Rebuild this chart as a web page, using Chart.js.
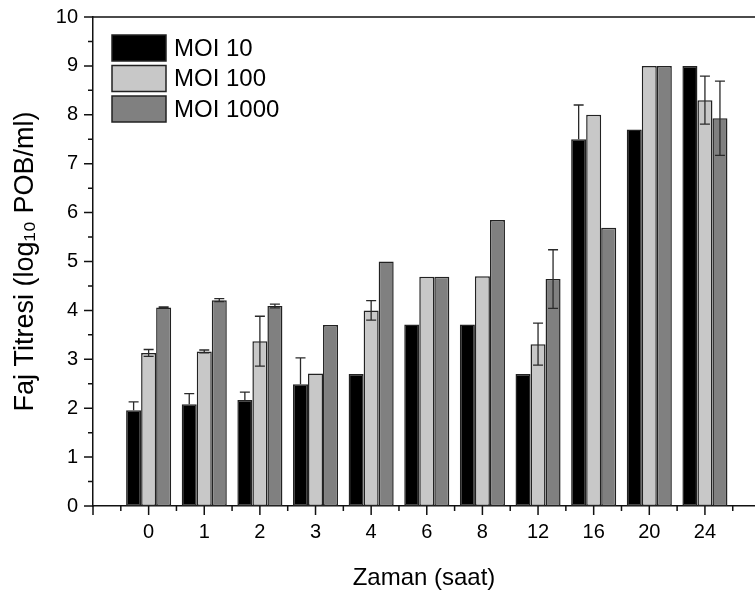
<!DOCTYPE html>
<html>
<head>
<meta charset="utf-8">
<script src="https://cdn.jsdelivr.net/npm/chart.js@4.4.0/dist/chart.umd.min.js"></script>
<style>
  html, body { margin: 0; padding: 0; background: #fff; overflow: hidden; }
  #wrap { width: 755px; height: 595px; position: relative; }
</style>
</head>
<body>
<div id="wrap"><canvas id="fajChart"></canvas></div>
<script>
// sampling times (hours)
const hours = ['0', '1', '2', '3', '4', '6', '8', '12', '16', '20', '24'];
// phage titre, log10 PFU/ml
const moi10   = [1.96, 2.08, 2.17, 2.49, 2.70, 3.71, 3.71, 2.70, 7.50, 7.70, 9.00];
const moi100  = [3.13, 3.16, 3.37, 2.71, 4.00, 4.69, 4.70, 3.31, 8.00, 9.00, 8.30];
const moi1000 = [4.06, 4.21, 4.09, 3.70, 5.00, 4.69, 5.85, 4.64, 5.69, 9.00, 7.93];
// error bars (+/-)
const err10   = [0.17, 0.22, 0.16, 0.54, 0, 0, 0, 0, 0.70, 0, 0];
const err100  = [0.07, 0.03, 0.51, 0, 0.20, 0, 0, 0.43, 0, 0, 0.49];
const err1000 = [0.01, 0.03, 0.04, 0, 0, 0, 0, 0.60, 0, 0, 0.76];
const yTicks = [0, 1, 2, 3, 4, 5, 6, 7, 8, 9, 10];

Chart.defaults.font.family = "'Liberation Sans', Arial, sans-serif";
Chart.defaults.color = '#000';

const toPoints = arr => arr.map((v, i) => ({ x: i, y: v }));

// error bars drawn on top of the bars (lower whisker hidden on the black bars)
const errorBars = {
  id: 'errorBars',
  afterDatasetsDraw(chart) {
    const { ctx, scales: { y } } = chart;
    ctx.save();
    ctx.strokeStyle = '#2a2a2a';
    ctx.lineWidth = 1.3;
    chart.data.datasets.forEach((ds, di) => {
      const meta = chart.getDatasetMeta(di);
      meta.data.forEach((bar, i) => {
        const e = ds.errors[i];
        if (!e) return;
        const v = ds.data[i].y;
        const top = y.getPixelForValue(v + e);
        const bot = ds.errorDown ? y.getPixelForValue(v - e) : bar.y;
        ctx.beginPath();
        ctx.moveTo(bar.x, top); ctx.lineTo(bar.x, bot);
        ctx.moveTo(bar.x - 5, top); ctx.lineTo(bar.x + 5, top);
        if (ds.errorDown) { ctx.moveTo(bar.x - 5, bot); ctx.lineTo(bar.x + 5, bot); }
        ctx.stroke();
      });
    });
    ctx.restore();
  }
};

// frame line on top, major + minor tick marks outside the axes, legend
const axisDecor = {
  id: 'axisDecor',
  afterDraw(chart) {
    const { ctx, chartArea: a, scales: { x, y } } = chart;
    ctx.save();
    ctx.strokeStyle = '#111';
    ctx.lineWidth = 1.5;
    ctx.beginPath();
    ctx.moveTo(a.left, a.top); ctx.lineTo(a.right, a.top);
    for (let v = -1; v <= hours.length - 0.5; v += 0.5) {
      const px = x.getPixelForValue(v);
      if (px > a.right) break;
      const len = Number.isInteger(v) ? 9 : 5;
      ctx.moveTo(px, a.bottom); ctx.lineTo(px, a.bottom + len);
    }
    for (let v = 0; v <= 10; v += 0.5) {
      const py = y.getPixelForValue(v);
      const len = Number.isInteger(v) ? 9 : 5;
      ctx.moveTo(a.left, py); ctx.lineTo(a.left - len, py);
    }
    ctx.stroke();

    // legend
    const bx = a.left + 19, by = a.top + 18, bw = 54, bh = 26, step = 30.5;
    ctx.font = "24px 'Liberation Sans', Arial, sans-serif";
    ctx.textBaseline = 'middle';
    ctx.textAlign = 'left';
    chart.data.datasets.forEach((ds, i) => {
      const yy = by + i * step;
      ctx.fillStyle = ds.backgroundColor;
      ctx.fillRect(bx, yy, bw, bh);
      ctx.lineWidth = 1.5;
      ctx.strokeStyle = '#222';
      ctx.strokeRect(bx, yy, bw, bh);
      ctx.fillStyle = '#000';
      ctx.fillText(ds.label, bx + bw + 8, yy + bh / 2 + 1);
    });
    ctx.restore();
  }
};

const barStyle = { borderColor: '#222', borderWidth: 1.5, borderSkipped: false,
  categoryPercentage: 0.81, barPercentage: 1.0 };

new Chart(document.getElementById('fajChart'), {
  type: 'bar',
  data: {
    datasets: [
      { label: 'MOI 10', data: toPoints(moi10), errors: err10, errorDown: false, backgroundColor: '#000000', ...barStyle },
      { label: 'MOI 100', data: toPoints(moi100), errors: err100, errorDown: true, backgroundColor: '#c8c8c8', ...barStyle },
      { label: 'MOI 1000', data: toPoints(moi1000), errors: err1000, errorDown: true, backgroundColor: '#808080', ...barStyle }
    ]
  },
  options: {
    responsive: true,
    maintainAspectRatio: false,
    animation: false,
    layout: { padding: { top: 17, left: 0, right: 0, bottom: 0 } },
    plugins: { legend: { display: false }, tooltip: { enabled: false } },
    scales: {
      x: {
        type: 'linear',
        min: -1,
        max: 10.9,
        offset: false,
        afterBuildTicks: s => { s.ticks = [-1, ...hours.map((h, i) => i)].map(v => ({ value: v })); },
        afterFit: s => { s.height = 89; s.paddingLeft = 0; s.paddingRight = 0; },
        grid: { display: false },
        border: { display: true, color: '#111', width: 1.5 },
        ticks: {
          font: { size: 20 },
          padding: 6,
          maxRotation: 0,
          autoSkip: false,
          callback: v => (v >= 0 && v < hours.length) ? hours[v] : ''
        },
        title: { display: true, text: 'Zaman (saat)', font: { size: 24 }, padding: { top: 4, bottom: 2 } }
      },
      y: {
        min: 0,
        max: 10,
        afterBuildTicks: s => { s.ticks = yTicks.map(v => ({ value: v })); },
        afterFit: s => { s.width = 93; s.paddingTop = 0; s.paddingBottom = 0; },
        grid: { display: false },
        border: { display: true, color: '#111', width: 1.5 },
        ticks: { font: { size: 20 }, padding: 7 },
        title: { display: true, text: 'Faj Titresi (log\u2081\u2080 POB/ml)', font: { size: 27 }, padding: { top: 9, bottom: 4 } }
      }
    }
  },
  plugins: [errorBars, axisDecor]
});
</script>
</body>
</html>
